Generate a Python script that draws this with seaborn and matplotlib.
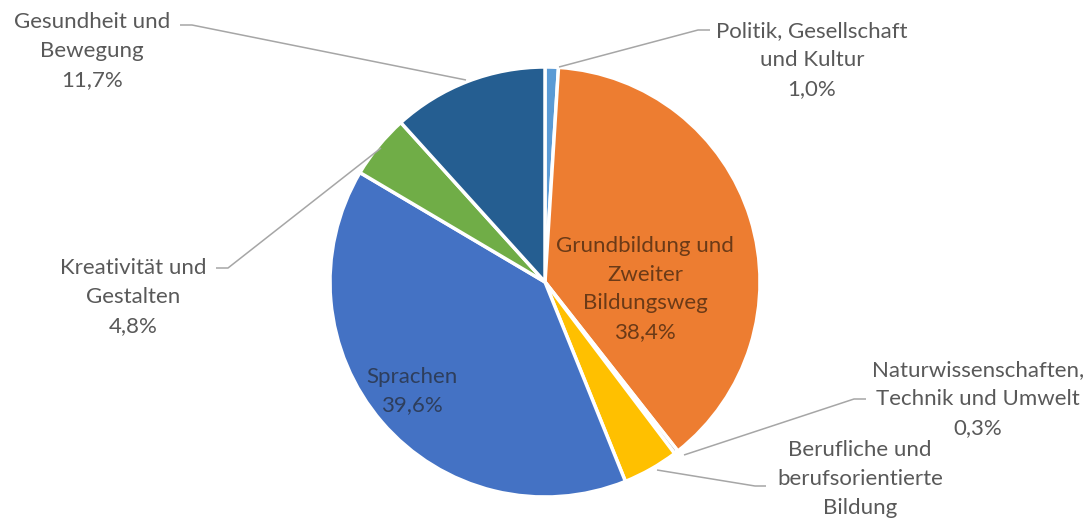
import matplotlib
matplotlib.use("Agg")
import matplotlib.pyplot as plt
import seaborn as sns

sns.set_theme(style="white")
plt.rcParams['font.family'] = ['Lato', 'DejaVu Sans']

# Bereiche und Anteile (%) im Uhrzeigersinn ab 12 Uhr
bereiche = ["Politik, Gesellschaft\nund Kultur",
            "Grundbildung und\nZweiter\nBildungsweg",
            "Naturwissenschaften,\nTechnik und Umwelt",
            "Berufliche und\nberufsorientierte\nBildung",
            "Sprachen",
            "Kreativität und\nGestalten",
            "Gesundheit und\nBewegung"]
anteile = [1.0, 38.4, 0.3, 4.2, 39.6, 4.8, 11.7]
farben = ["#5B9BD5", "#ED7D31", "#A5A5A5", "#FFC000", "#4472C4", "#70AD47", "#255E91"]

W, H = 1090, 520
fig = plt.figure(figsize=(W / 100, H / 100), dpi=100)
ax = fig.add_axes([0, 0, 1, 1])

cx, cy, r = 545, H - 282, 215
explode = [0, 0.02, 0, 0, 0, 0, 0]
wedges, _ = ax.pie(anteile, colors=farben, startangle=90, counterclock=False,
                   center=(cx, cy), radius=r, explode=explode, frame=True,
                   wedgeprops=dict(edgecolor="white", linewidth=2.5))
ax.set_xlim(0, W)
ax.set_ylim(0, H)
ax.set_aspect("equal")
ax.axis("off")


def pct(v):
    return f"{v:.1f}%".replace(".", ",")


grau = "#595959"
linie = "#A6A6A6"
fs = 16
ls = 1.55

# Beschriftung außen: (index, text-x, text-y, linienpunkte)
aussen = [
    (6, 92, 51, [(180, 25), (192, 25), (466, 80)]),
    (0, 812, 60, [(710, 30), (698, 30), (559, 67)]),
    (5, 133, 297, [(216, 268), (228, 268), (381, 148)]),
    (2, 978, 399, [(866, 399), (854, 399), (684, 455)]),
    (3, 860, 479, [(766, 486), (755, 486), (657, 470)]),
]
for i, tx, ty, pts in aussen:
    txt = bereiche[i]
    if i != 3:
        txt = txt + "\n" + pct(anteile[i])
    ax.text(tx, H - ty, txt, ha="center", va="center", color=grau,
            fontsize=fs, linespacing=ls)
    xs = [p[0] for p in pts]
    ys = [H - p[1] for p in pts]
    ax.plot(xs, ys, color=linie, lw=1.1, solid_capstyle="butt")

# Beschriftung innen
ax.text(645, H - 289, bereiche[1] + "\n" + pct(anteile[1]), ha="center",
        va="center", color="#6B3A17", fontsize=fs, linespacing=ls)
ax.text(412, H - 391, bereiche[4] + "\n" + pct(anteile[4]), ha="center",
        va="center", color="#2E3E5C", fontsize=fs, linespacing=ls)

fig.savefig("out.png", dpi=100, facecolor="white")
